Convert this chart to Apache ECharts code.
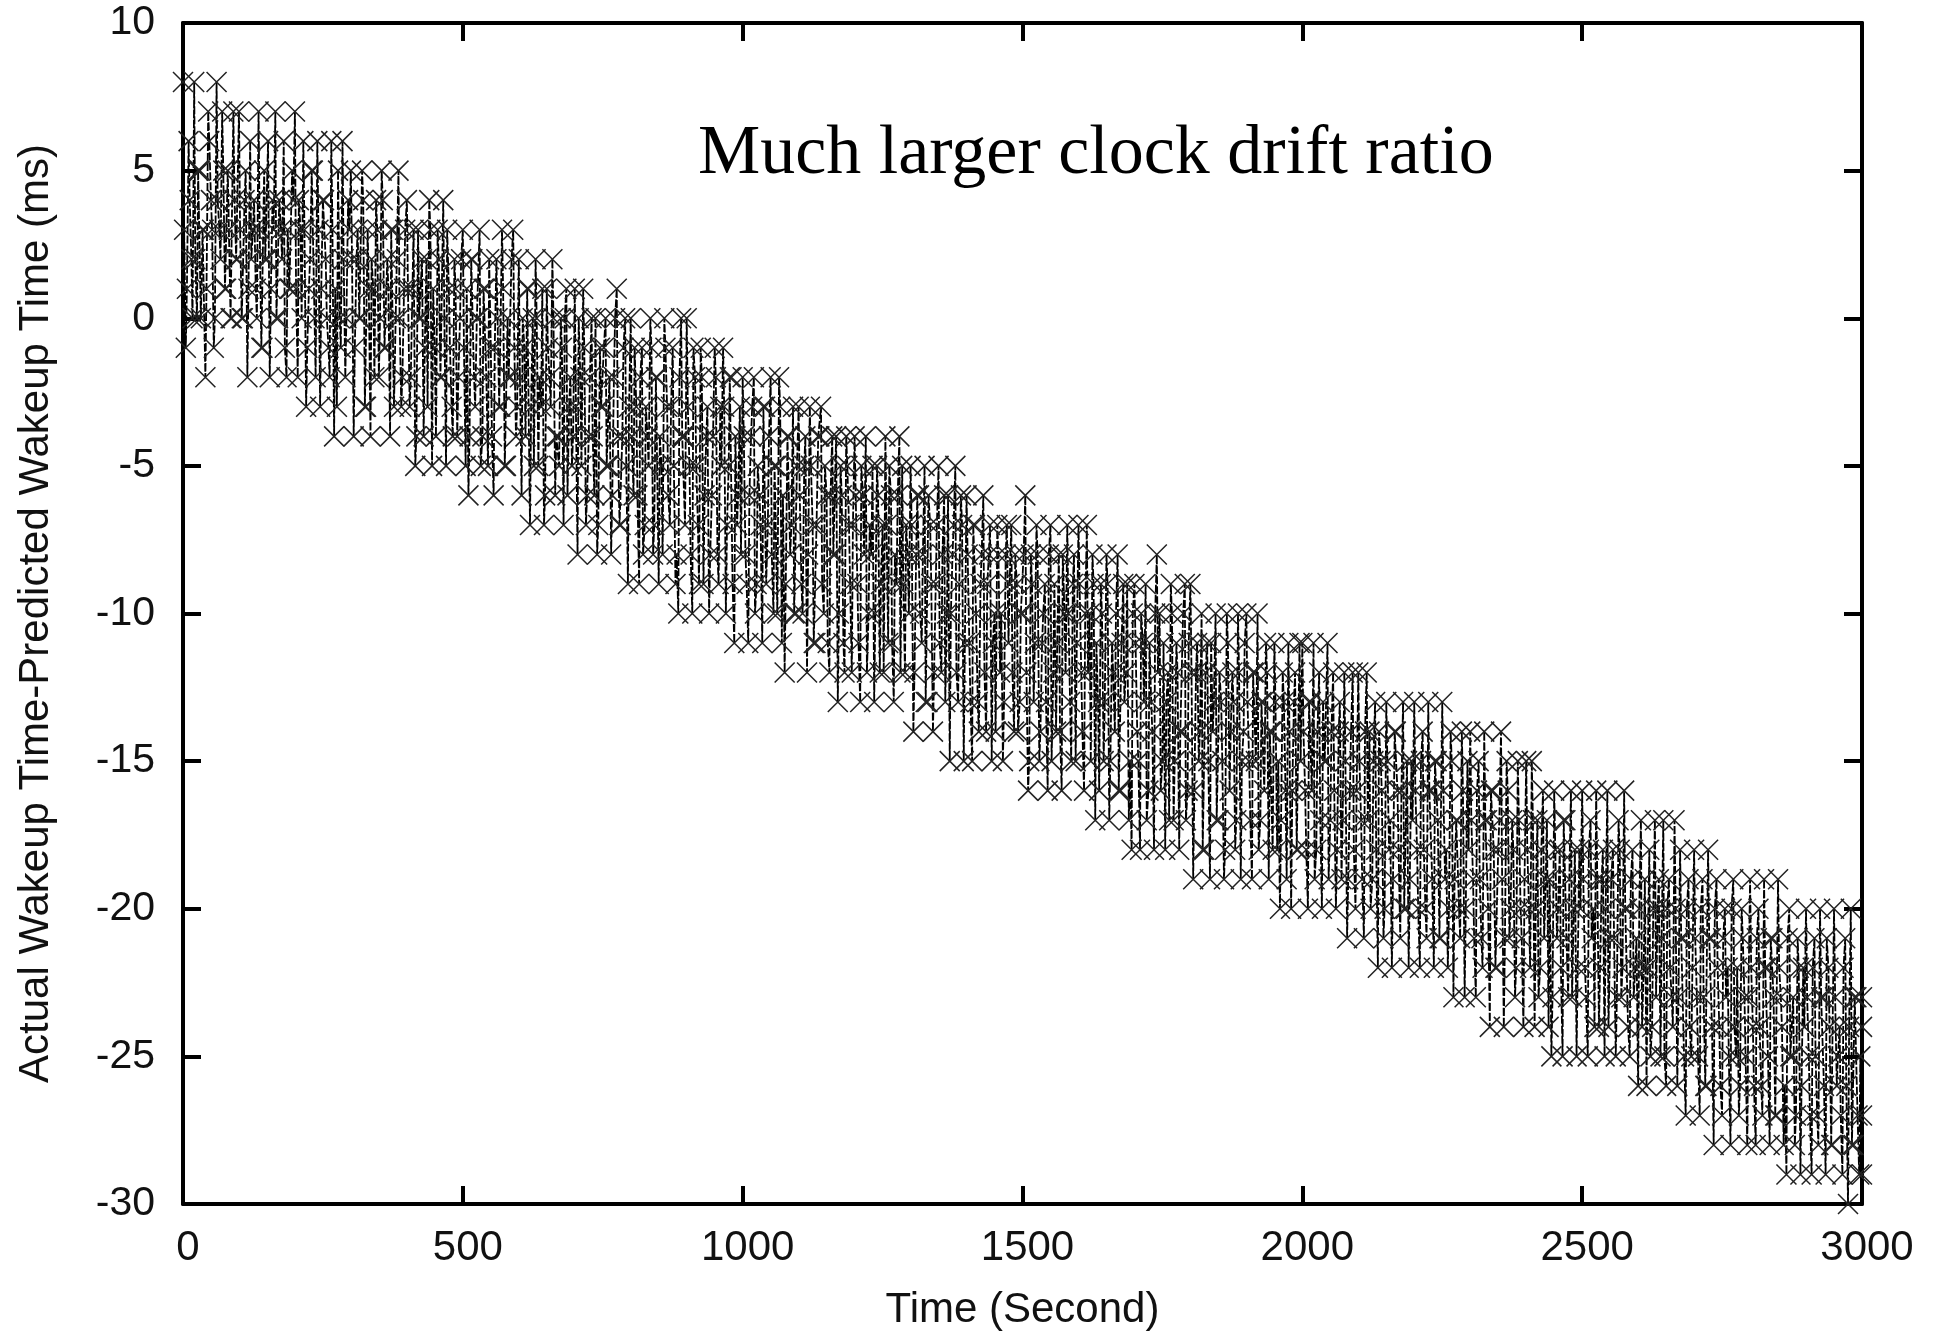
<!DOCTYPE html>
<html><head><meta charset="utf-8">
<style>html,body{margin:0;padding:0;background:#fff}#c{width:1937px;height:1332px}</style>
<script src="https://cdn.jsdelivr.net/npm/echarts@6/dist/echarts.min.js"></script>
</head><body><div id="c"></div>
<script>
const chartNote = "Much larger clock drift ratio";
const xName = "Time (Second)";
const yName = "Actual Wakeup Time-Predicted Wakeup Time (ms)";
const timesA = [
0,5,10,15,20,25,30,35,40,45,50,55,60,65,70,75,80,85,90,95,
100,105,110,115,120,125,130,135,140,145,150,155,160,165,170,175,180,185,190,195,
200,205,210,215,220,225,230,235,240,245,250,255,260,265,270,275,280,285,290,295,
300,305,310,315,320,325,330,335,340,345,350,355,360,365,370,375,380,385,390,395,
400,405,410,415,420,425,430,435,440,445,450,455,460,465,470,475,480,485,490,495,
500,505,510,515,520,525,530,535,540,545,550,555,560,565,570,575,580,585,590,595,
600,605,610,615,620,625,630,635,640,645,650,655,660,665,670,675,680,685,690,695,
700,705,710,715,720,725,730,735,740,745,750,755,760,765,770,775,780,785,790,795,
800,805,810,815,820,825,830,835,840,845,850,855,860,865,870,875,880,885,890,895,
900,905,910,915,920,925,930,935,940,945,950,955,960,965,970,975,980,985,990,995,
1000,1005,1010,1015,1020,1025,1030,1035,1040,1045,1050,1055,1060,1065,1070,1075,1080,1085,1090,1095,
1100,1105,1110,1115,1120,1125,1130,1135,1140,1145,1150,1155,1160,1165,1170,1175,1180,1185,1190,1195,
1200,1205,1210,1215,1220,1225,1230,1235,1240,1245,1250,1255,1260,1265,1270,1275,1280,1285,1290,1295,
1300,1305,1310,1315,1320,1325,1330,1335,1340,1345,1350,1355,1360,1365,1370,1375,1380,1385,1390,1395,
1400,1405,1410,1415,1420,1425,1430,1435,1440,1445,1450,1455,1460,1465,1470,1475,1480,1485,1490,1495,
1500,1505,1510,1515,1520,1525,1530,1535,1540,1545,1550,1555,1560,1565,1570,1575,1580,1585,1590,1595,
1600,1605,1610,1615,1620,1625,1630,1635,1640,1645,1650,1655,1660,1665,1670,1675,1680,1685,1690,1695,
1700,1705,1710,1715,1720,1725,1730,1735,1740,1745,1750,1755,1760,1765,1770,1775,1780,1785,1790,1795,
1800,1805,1810,1815,1820,1825,1830,1835,1840,1845,1850,1855,1860,1865,1870,1875,1880,1885,1890,1895,
1900,1905,1910,1915,1920,1925,1930,1935,1940,1945,1950,1955,1960,1965,1970,1975,1980,1985,1990,1995,
2000,2005,2010,2015,2020,2025,2030,2035,2040,2045,2050,2055,2060,2065,2070,2075,2080,2085,2090,2095,
2100,2105,2110,2115,2120,2125,2130,2135,2140,2145,2150,2155,2160,2165,2170,2175,2180,2185,2190,2195,
2200,2205,2210,2215,2220,2225,2230,2235,2240,2245,2250,2255,2260,2265,2270,2275,2280,2285,2290,2295,
2300,2305,2310,2315,2320,2325,2330,2335,2340,2345,2350,2355,2360,2365,2370,2375,2380,2385,2390,2395,
2400,2405,2410,2415,2420,2425,2430,2435,2440,2445,2450,2455,2460,2465,2470,2475,2480,2485,2490,2495,
2500,2505,2510,2515,2520,2525,2530,2535,2540,2545,2550,2555,2560,2565,2570,2575,2580,2585,2590,2595,
2600,2605,2610,2615,2620,2625,2630,2635,2640,2645,2650,2655,2660,2665,2670,2675,2680,2685,2690,2695,
2700,2705,2710,2715,2720,2725,2730,2735,2740,2745,2750,2755,2760,2765,2770,2775,2780,2785,2790,2795,
2800,2805,2810,2815,2820,2825,2830,2835,2840,2845,2850,2855,2860,2865,2870,2875,2880,2885,2890,2895,
2900,2905,2910,2915,2920,2925,2930,2935,2940,2945,2950,2955,2960,2965,2970,2975,2980,2985,2990,2995,
3000,3000,3000,3000];
const errorsA = [
8,-1,6,2,8,0,5,3,-2,7,4,-1,8,3,7,1,5,0,7,2,
7,0,4,-2,6,3,1,7,-1,5,2,-2,4,7,0,3,6,-2,1,5,
7,-2,3,6,-3,1,5,0,6,-3,4,2,-1,6,-4,-3,0,6,-2,4,
5,-4,2,0,5,-3,3,-4,1,4,-2,5,-1,2,-4,3,0,5,-3,1,
4,-3,1,-5,3,0,-4,2,4,-5,-1,3,-2,4,-5,1,-3,2,-4,0,
3,-5,-6,2,-2,0,3,-4,1,-5,-1,-6,2,-3,3,-5,0,-2,3,-4,
2,-6,-1,1,-7,0,2,-5,-3,-7,1,-2,2,-6,-4,0,-7,1,-3,-5,
1,-8,-2,1,-7,-4,0,-6,-8,-1,-3,0,-5,-8,-2,1,-7,-4,0,-9,
0,-6,-3,-9,-1,-7,-4,0,-8,-2,-9,-5,0,-3,-7,-1,-9,-10,0,-4,
0,-5,-10,-2,-7,-1,-9,-4,-10,-6,-1,-8,-3,-1,-10,-5,-2,-11,-7,-3,
-2,-8,-11,-4,-2,-9,-6,-11,-3,-7,-2,-10,-5,-2,-11,-12,-4,-8,-3,-10,
-3,-9,-5,-12,-3,-7,-11,-4,-3,-10,-6,-12,-4,-8,-13,-5,-11,-4,-7,-12,
-4,-9,-13,-6,-4,-10,-8,-13,-5,-12,-7,-4,-11,-6,-13,-9,-4,-5,-12,-8,
-5,-14,-8,-6,-11,-5,-13,-7,-14,-9,-5,-12,-6,-10,-15,-8,-5,-13,-6,-15,
-6,-11,-15,-7,-13,-9,-6,-14,-8,-15,-10,-7,-12,-15,-8,-11,-7,-14,-9,-13,
-10,-6,-16,-8,-13,-7,-15,-11,-9,-16,-7,-12,-14,-8,-16,-10,-7,-13,-9,-15,
-7,-12,-16,-7,-10,-8,-17,-13,-9,-15,-8,-17,-11,-14,-8,-16,-9,-12,-17,-18,
-9,-14,-18,-11,-9,-16,-13,-18,-8,-10,-15,-18,-12,-9,-17,-11,-18,-14,-9,-16,
-9,-19,-12,-15,-10,-18,-11,-19,-14,-10,-17,-13,-19,-10,-16,-12,-18,-10,-19,-14,
-10,-15,-19,-12,-10,-17,-13,-11,-19,-14,-11,-18,-20,-12,-16,-11,-20,-13,-18,-11,
-11,-16,-20,-13,-11,-18,-12,-20,-15,-11,-17,-12,-20,-14,-19,-12,-21,-16,-12,-20,
-12,-17,-21,-12,-14,-19,-13,-22,-15,-21,-13,-18,-22,-14,-16,-21,-13,-20,-22,-15,
-13,-18,-22,-14,-20,-13,-16,-22,-15,-21,-13,-19,-22,-14,-23,-17,-20,-14,-23,-15,
-14,-19,-23,-15,-21,-14,-17,-24,-16,-22,-18,-14,-24,-15,-21,-17,-23,-15,-20,-24,
-15,-20,-15,-24,-17,-22,-16,-19,-24,-25,-16,-21,-18,-25,-17,-23,-16,-20,-25,-18,
-16,-22,-25,-17,-20,-16,-24,-19,-25,-16,-21,-18,-25,-17,-23,-16,-20,-25,-18,-22,
-26,-17,-22,-26,-18,-24,-17,-20,-25,-17,-26,-19,-23,-17,-26,-18,-21,-27,-19,-25,
-18,-23,-27,-19,-26,-18,-21,-28,-19,-24,-27,-20,-22,-28,-19,-25,-27,-20,-23,-28,
-19,-24,-28,-20,-26,-19,-22,-28,-21,-27,-19,-23,-28,-29,-20,-25,-28,-21,-29,-22,
-20,-25,-29,-21,-27,-20,-23,-29,-22,-28,-20,-26,-24,-29,-21,-30,-20,-28,-23,-29,
-29,-27,-24,-23];
const timesB = [
2,7,12,17,22,27,32,37,42,47,52,57,62,67,72,77,82,87,92,97,
102,107,112,117,122,127,132,137,142,147,152,157,162,167,172,177,182,187,192,197,
202,207,212,217,222,227,232,237,242,247,252,257,262,267,272,277,282,287,292,297,
302,307,312,317,322,327,332,337,342,347,352,357,362,367,372,377,382,387,392,397,
402,407,412,417,422,427,432,437,442,447,452,457,462,467,472,477,482,487,492,497,
502,507,512,517,522,527,532,537,542,547,552,557,562,567,572,577,582,587,592,597,
602,607,612,617,622,627,632,637,642,647,652,657,662,667,672,677,682,687,692,697,
702,707,712,717,722,727,732,737,742,747,752,757,762,767,772,777,782,787,792,797,
802,807,812,817,822,827,832,837,842,847,852,857,862,867,872,877,882,887,892,897,
902,907,912,917,922,927,932,937,942,947,952,957,962,967,972,977,982,987,992,997,
1002,1007,1012,1017,1022,1027,1032,1037,1042,1047,1052,1057,1062,1067,1072,1077,1082,1087,1092,1097,
1102,1107,1112,1117,1122,1127,1132,1137,1142,1147,1152,1157,1162,1167,1172,1177,1182,1187,1192,1197,
1202,1207,1212,1217,1222,1227,1232,1237,1242,1247,1252,1257,1262,1267,1272,1277,1282,1287,1292,1297,
1302,1307,1312,1317,1322,1327,1332,1337,1342,1347,1352,1357,1362,1367,1372,1377,1382,1387,1392,1397,
1402,1407,1412,1417,1422,1427,1432,1437,1442,1447,1452,1457,1462,1467,1472,1477,1482,1487,1492,1497,
1502,1507,1512,1517,1522,1527,1532,1537,1542,1547,1552,1557,1562,1567,1572,1577,1582,1587,1592,1597,
1602,1607,1612,1617,1622,1627,1632,1637,1642,1647,1652,1657,1662,1667,1672,1677,1682,1687,1692,1697,
1702,1707,1712,1717,1722,1727,1732,1737,1742,1747,1752,1757,1762,1767,1772,1777,1782,1787,1792,1797,
1802,1807,1812,1817,1822,1827,1832,1837,1842,1847,1852,1857,1862,1867,1872,1877,1882,1887,1892,1897,
1902,1907,1912,1917,1922,1927,1932,1937,1942,1947,1952,1957,1962,1967,1972,1977,1982,1987,1992,1997,
2002,2007,2012,2017,2022,2027,2032,2037,2042,2047,2052,2057,2062,2067,2072,2077,2082,2087,2092,2097,
2102,2107,2112,2117,2122,2127,2132,2137,2142,2147,2152,2157,2162,2167,2172,2177,2182,2187,2192,2197,
2202,2207,2212,2217,2222,2227,2232,2237,2242,2247,2252,2257,2262,2267,2272,2277,2282,2287,2292,2297,
2302,2307,2312,2317,2322,2327,2332,2337,2342,2347,2352,2357,2362,2367,2372,2377,2382,2387,2392,2397,
2402,2407,2412,2417,2422,2427,2432,2437,2442,2447,2452,2457,2462,2467,2472,2477,2482,2487,2492,2497,
2502,2507,2512,2517,2522,2527,2532,2537,2542,2547,2552,2557,2562,2567,2572,2577,2582,2587,2592,2597,
2602,2607,2612,2617,2622,2627,2632,2637,2642,2647,2652,2657,2662,2667,2672,2677,2682,2687,2692,2697,
2702,2707,2712,2717,2722,2727,2732,2737,2742,2747,2752,2757,2762,2767,2772,2777,2782,2787,2792,2797,
2802,2807,2812,2817,2822,2827,2832,2837,2842,2847,2852,2857,2862,2867,2872,2877,2882,2887,2892,2897,
2902,2907,2912,2917,2922,2927,2932,2937,2942,2947,2952,2957,2962,2967,2972,2977,2982,2987,2992,2997];
const errorsB = [
3,1,4,0,2,5,0,3,1,6,3,0,4,2,5,1,3,0,4,2,
3,0,5,1,2,4,0,3,-1,2,6,1,3,0,4,2,-1,3,1,4,
1,4,0,3,-1,2,5,-2,3,1,4,0,-2,3,1,5,-1,2,0,3,
2,-1,3,0,4,-3,1,2,-2,3,0,4,-1,1,3,-3,2,0,-2,3,
1,-2,3,-4,0,2,-1,-3,3,1,-4,2,-2,0,3,-1,-4,1,-2,2,
-1,1,-4,2,-3,0,-5,1,-2,2,-4,-1,0,-3,1,-5,-2,2,-1,-3,
-2,0,-4,1,-3,-5,0,-2,1,-6,-1,-3,0,-4,-5,-1,0,-6,-2,-4,
-3,0,-5,-1,-6,-2,-4,0,-7,-3,-1,-5,-2,-6,0,-4,-7,-1,-5,-3,
-4,-1,-6,-2,-8,-3,-5,-1,-7,-2,-4,-8,-1,-6,-3,-5,-8,-2,-4,-7,
-3,-8,-1,-5,-9,-2,-6,-3,-8,-4,-2,-9,-5,-3,-7,-2,-9,-4,-6,-8,
-4,-9,-6,-3,-10,-5,-7,-3,-9,-4,-8,-5,-10,-3,-6,-9,-4,-7,-10,-5,
-6,-10,-4,-8,-5,-11,-7,-4,-9,-5,-11,-6,-8,-4,-10,-6,-12,-5,-9,-7,
-6,-11,-5,-8,-12,-7,-5,-10,-6,-9,-12,-7,-5,-11,-8,-6,-12,-9,-7,-10,
-7,-12,-6,-10,-8,-13,-6,-9,-12,-7,-11,-8,-13,-6,-10,-7,-12,-9,-7,-11,
-8,-13,-7,-10,-14,-8,-12,-9,-7,-11,-14,-8,-10,-13,-7,-9,-12,-8,-14,-10,
-8,-12,-15,-9,-11,-8,-14,-10,-13,-8,-15,-9,-11,-14,-8,-12,-10,-15,-8,-11,
-9,-14,-10,-12,-15,-9,-11,-16,-10,-13,-9,-15,-12,-10,-16,-11,-13,-9,-15,-10,
-11,-15,-10,-13,-17,-11,-14,-10,-12,-16,-11,-13,-17,-10,-15,-12,-14,-10,-17,-11,
-12,-16,-11,-14,-18,-12,-15,-11,-13,-17,-12,-15,-18,-11,-14,-13,-17,-12,-15,-11,
-13,-17,-12,-15,-18,-13,-16,-12,-14,-18,-13,-15,-17,-13,-19,-14,-16,-12,-18,-15,
-14,-18,-13,-16,-19,-14,-17,-13,-15,-19,-14,-16,-18,-13,-17,-15,-19,-14,-18,-16,
-15,-19,-14,-17,-20,-15,-18,-14,-16,-20,-15,-17,-19,-14,-18,-16,-20,-15,-19,-17,
-16,-20,-15,-18,-21,-16,-19,-15,-17,-21,-16,-18,-20,-15,-19,-17,-21,-16,-20,-18,
-17,-21,-16,-19,-22,-17,-20,-16,-18,-22,-17,-19,-21,-16,-20,-18,-22,-17,-21,-19,
-18,-22,-17,-20,-23,-18,-21,-17,-19,-23,-18,-20,-22,-17,-21,-19,-23,-18,-22,-20,
-19,-23,-18,-21,-24,-19,-22,-18,-20,-24,-19,-21,-23,-18,-22,-20,-24,-19,-23,-21,
-20,-24,-19,-22,-25,-20,-23,-19,-21,-25,-20,-22,-24,-20,-23,-21,-25,-20,-24,-22,
-21,-25,-20,-23,-26,-21,-24,-20,-22,-26,-21,-23,-25,-20,-24,-22,-26,-21,-25,-23,
-22,-26,-21,-24,-27,-22,-25,-21,-23,-27,-22,-24,-26,-21,-25,-23,-27,-22,-26,-24,
-23,-27,-22,-25,-28,-23,-26,-21,-24,-28,-23,-25,-27,-22,-26,-24,-28,-23,-27,-25];
const xTicks = {min:0, max:3000, interval:500};
const yTicks = {min:-30, max:10, interval:5};

const points = timesA.map((t,i)=>[t,errorsA[i]])
  .concat(timesB.map((t,i)=>[t,errorsB[i]]))
  .sort((a,b)=>a[0]-b[0]);
const labelFont = {fontFamily:'"Liberation Sans",Arial,sans-serif', fontSize:42, color:'#111'};
const chart = echarts.init(document.getElementById('c'),null,{renderer:'canvas'});
const frameAxis = {
  axisLine:{show:true,onZero:false,lineStyle:{color:'#000',width:4}},
  axisTick:{show:true,inside:true,length:18,lineStyle:{color:'#000',width:4}},
  splitLine:{show:false}
};
chart.setOption({
  animation:false,
  backgroundColor:'#fff',
  grid:{left:183,right:75,top:23,bottom:128,outerBoundsMode:'none',containLabel:false,show:false},
  graphic:[{type:'text',left:698,top:120,z:20,style:{text:chartNote,fontFamily:'"Liberation Serif","Times New Roman",serif',fontSize:70,fill:'#000'}}],
  xAxis:[
    Object.assign({type:'value',position:'bottom',...xTicks,name:xName,nameLocation:'middle',nameGap:85,
      nameTextStyle:labelFont,axisLabel:{...labelFont,margin:23,padding:[0,0,0,10],formatter:v=>String(v),hideOverlap:false,showMinLabel:true,showMaxLabel:true}},frameAxis),
    Object.assign({type:'value',position:'top',...xTicks,axisLabel:{show:false}},frameAxis)
  ],
  yAxis:[
    Object.assign({type:'value',position:'left',...yTicks,name:yName,nameLocation:'middle',nameGap:126,
      nameTextStyle:labelFont,axisLabel:{...labelFont,fontSize:41,margin:28,padding:[7,0,0,0],formatter:v=>String(v),showMinLabel:true,showMaxLabel:true}},frameAxis),
    Object.assign({type:'value',position:'right',...yTicks,axisLabel:{show:false}},frameAxis)
  ],
  series:[{
    type:'line',data:points,clip:false,showAllSymbol:true,
    symbol:'path://M0 0L10 10M10 0L0 10',symbolSize:20,
    itemStyle:{color:'rgba(0,0,0,0)',borderColor:'#222',borderWidth:1.5},
    lineStyle:{color:'#000',width:1.8,type:[8,2]},
    z:5
  }]
});
</script></body></html>
